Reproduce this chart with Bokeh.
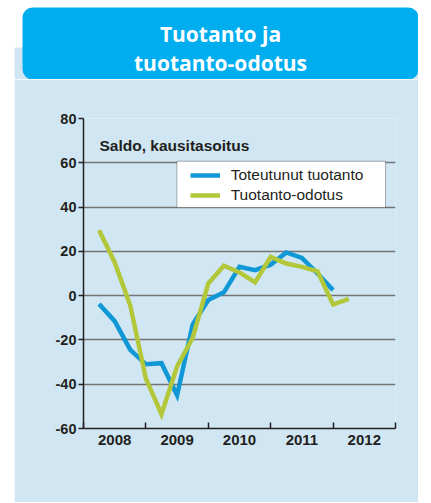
from bokeh.plotting import figure
from bokeh.models import Range1d, FixedTicker, Legend, LegendItem, BoxAnnotation, Label, Spacer
from bokeh.layouts import column, row
from bokeh.embed import file_html
from bokeh.resources import INLINE
from bokeh.core.properties import value

# ---- data ----
quarters_actual = ["2008Q1", "2008Q2", "2008Q3", "2008Q4",
                   "2009Q1", "2009Q2", "2009Q3", "2009Q4",
                   "2010Q1", "2010Q2", "2010Q3", "2010Q4",
                   "2011Q1", "2011Q2", "2011Q3", "2011Q4"]
toteutunut_tuotanto = [-3.8, -11.5, -24.5, -31.0,
                       -30.5, -45.0, -13.0, -2.0,
                       1.5, 13.0, 11.5, 14.0,
                       19.5, 17.0, 10.0, 2.5]

quarters_expect = quarters_actual + ["2012Q1"]
tuotanto_odotus = [29.5, 15.0, -4.5, -37.5,
                   -53.5, -32.0, -19.0, 5.5,
                   13.5, 10.5, 6.0, 17.5,
                   14.5, 13.0, 11.0, -4.0,
                   -1.5]

year_labels = ["2008", "2009", "2010", "2011", "2012"]
y_ticks = [-60, -40, -20, 0, 20, 40, 60, 80]

series_names = ["Toteutunut tuotanto", "Tuotanto-odotus"]
title_lines = ["Tuotanto ja", "tuotanto-odotus"]
subtitle = "Saldo, kausitasoitus"


def qpos(q):
    return int(q[:4]) + int(q[5]) / 4.0


x_actual = [qpos(q) for q in quarters_actual]
x_expect = [qpos(q) for q in quarters_expect]

# ---- styles ----
PANEL = "#d0e7f3"
TITLE_BG = "#00aeef"
BLUE = "#1097d5"
GREEN = "#b3c73a"
DARK = "#231f20"
GRID = "#737373"
FONT = "Liberation Sans"

# ---- title strip (page pixel space) ----
top = figure(width=418, height=79, x_range=Range1d(0, 418), y_range=Range1d(79, 0),
             x_axis_location=None, y_axis_location=None,
             output_backend="svg", toolbar_location=None, min_border=0,
             background_fill_color="white", border_fill_color="white")
top.grid.visible = False
top.outline_line_color = None
top.quad(left=[14], right=[418], top=[47], bottom=[79], fill_color=PANEL, line_color=None)
top.add_layout(BoxAnnotation(left=22, right=418, top=7, bottom=79, border_radius=10,
                             fill_color=TITLE_BG, fill_alpha=1, line_color=None))
tt = top.text(x=[220, 220], y=[33, 62.5], text=title_lines, text_align="center",
              text_baseline="alphabetic", text_color="white", text_font=value("Open Sans"),
              text_font_style="bold", text_font_size="21px")
tt.level = "overlay"

# ---- chart ----
p = figure(frame_width=312, frame_height=310,
           min_border_left=69, min_border_right=23, min_border_top=39, min_border_bottom=74,
           x_range=Range1d(2008, 2013), y_range=Range1d(-60, 80),
           output_backend="svg", toolbar_location=None,
           background_fill_color=PANEL, border_fill_color=PANEL)
p.outline_line_color = None

# y axis
p.yaxis.ticker = FixedTicker(ticks=y_ticks)
p.yaxis.major_label_overrides = {t: str(t) for t in y_ticks}
p.yaxis.axis_line_color = DARK
p.yaxis.axis_line_width = 1.5
p.yaxis.major_tick_line_color = DARK
p.yaxis.major_tick_line_width = 1.5
p.yaxis.major_tick_in = 0
p.yaxis.major_tick_out = 5
p.yaxis.minor_tick_line_color = None
p.yaxis.major_label_standoff = 2
p.yaxis.major_label_text_font = FONT
p.yaxis.major_label_text_font_style = "bold"
p.yaxis.major_label_text_font_size = "14.5px"
p.yaxis.major_label_text_color = DARK

# x axis: labels at year centres, ticks at year boundaries
centres = [int(y) + 0.5 for y in year_labels]
bounds = [int(y) for y in year_labels] + [int(year_labels[-1]) + 1]
p.xaxis.ticker = FixedTicker(ticks=centres, minor_ticks=bounds)
p.xaxis.major_label_overrides = {c: lab for c, lab in zip(centres, year_labels)}
p.xaxis.axis_line_color = DARK
p.xaxis.axis_line_width = 1.5
p.xaxis.major_tick_line_color = None
p.xaxis.major_tick_in = 0
p.xaxis.major_tick_out = 0
p.xaxis.minor_tick_line_color = DARK
p.xaxis.minor_tick_line_width = 1.5
p.xaxis.minor_tick_in = 6
p.xaxis.minor_tick_out = 0
p.xaxis.major_label_standoff = 6
p.xaxis.major_label_text_font = FONT
p.xaxis.major_label_text_font_style = "bold"
p.xaxis.major_label_text_font_size = "15px"
p.xaxis.major_label_text_color = DARK

# grid
p.xgrid.visible = False
p.ygrid.ticker = FixedTicker(ticks=y_ticks)
p.ygrid.grid_line_color = GRID
p.ygrid.grid_line_width = 1.5

# lines
r1 = p.line(x_actual, toteutunut_tuotanto, line_color=BLUE, line_width=4.5, line_join="miter")
r2 = p.line(x_expect, tuotanto_odotus, line_color=GREEN, line_width=4.5, line_join="miter")

# subtitle
p.add_layout(Label(x=2008.256, y=67.8, text=subtitle, text_font=FONT, text_font_style="bold",
                   text_font_size="15.5px", text_color=DARK, text_baseline="alphabetic"))

# legend box + legend
p.add_layout(BoxAnnotation(left=2009.497, right=2012.84, top=60.7, bottom=39.8,
                           fill_color="white", fill_alpha=1, line_color="black", line_width=1))
legend = Legend(items=[LegendItem(label=series_names[0], renderers=[r1]),
                       LegendItem(label=series_names[1], renderers=[r2])],
                location=(106.7, 222.75), padding=0, spacing=0, margin=0,
                glyph_width=30, glyph_height=20, label_height=20, label_standoff=11,
                label_text_font=FONT, label_text_font_size="15.5px", label_text_color=DARK,
                border_line_color=None, background_fill_alpha=0)
p.add_layout(legend)

layout = column(top, row(Spacer(width=14, height=423), p, spacing=0), spacing=0)
open("out.html", "w").write(file_html(layout, INLINE))
